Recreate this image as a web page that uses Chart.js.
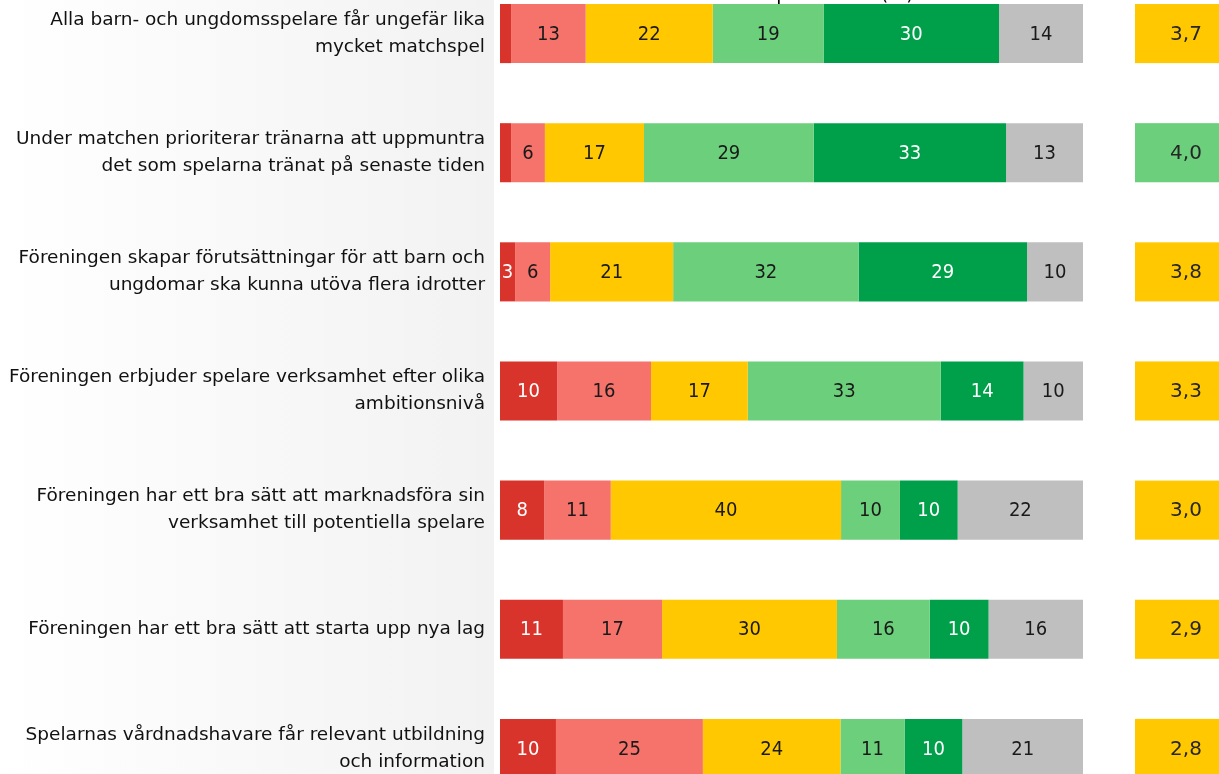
<!DOCTYPE html>
<html><head><meta charset="utf-8">
<script src="https://cdn.jsdelivr.net/npm/chart.js@4.4.1/dist/chart.umd.min.js"></script>
<style>
html,body{margin:0;padding:0;width:1219px;height:774px;overflow:hidden;
background:linear-gradient(to right,#ffffff 0px,#f2f2f2 494px,#ffffff 494px,#ffffff 100%);}
#c{position:absolute;left:0;top:-60px;}
</style></head><body>
<canvas id="c" width="1219" height="868" style="width:1219px;height:868px"></canvas>
<script>
const categories = [
  ["Alla barn- och ungdomsspelare får ungefär lika", "mycket matchspel"],
  ["Under matchen prioriterar tränarna att uppmuntra", "det som spelarna tränat på senaste tiden"],
  ["Föreningen skapar förutsättningar för att barn och", "ungdomar ska kunna utöva flera idrotter"],
  ["Föreningen erbjuder spelare verksamhet efter olika", "ambitionsnivå"],
  ["Föreningen har ett bra sätt att marknadsföra sin", "verksamhet till potentiella spelare"],
  "Föreningen har ett bra sätt att starta upp nya lag",
  ["Spelarnas vårdnadshavare får relevant utbildning", "och information"]
];
const seriesNames = ["1", "2", "3", "4", "5", "Vet ej"];
const s1 = [1.9, 1.9, 2.6, 9.8, 7.6, 10.8, 9.6];
const s2 = [12.8, 5.8, 6.0, 16.1, 11.4, 17.0, 25.2];
const s3 = [21.8, 17.0, 21.1, 16.6, 39.5, 30.0, 23.6];
const s4 = [19.0, 29.1, 31.8, 33.1, 10.1, 15.9, 11.0];
const s5 = [30.1, 33.0, 28.9, 14.2, 9.9, 10.1, 9.9];
const s6 = [14.4, 13.2, 9.6, 10.2, 21.5, 16.2, 20.7];
const means = [3.7, 4.0, 3.8, 3.3, 3.0, 2.9, 2.8];
const titleText = "Andel respondenter (%)";

const colors = ["#d9342b", "#f5736b", "#ffc800", "#6ccf7b", "#00a04a", "#bfbfbf"];
const labelColors = ["#ffffff", "#1a1a1a", "#1a1a1a", "#1a1a1a", "#ffffff", "#1a1a1a"];
const seriesData = [s1, s2, s3, s4, s5, s6];

const labelFont = '"DejaVu Sans", sans-serif';
const valueFont = '"Liberation Sans Narrow", "DejaVu Sans Condensed", sans-serif';

const overlay = {
  id: 'overlay',
  afterDatasetsDraw(chart) {
    const ctx = chart.ctx;
    const ca = chart.chartArea;
    ctx.save();
    ctx.textAlign = 'center';
    ctx.textBaseline = 'middle';
    ctx.font = '20px ' + valueFont;
    chart.data.datasets.forEach((ds, i) => {
      const meta = chart.getDatasetMeta(i);
      meta.data.forEach((bar, j) => {
        const v = ds.data[j];
        if (v < 2.5) return;
        const p = bar.getProps(['x', 'y', 'base'], true);
        ctx.fillStyle = labelColors[i];
        ctx.fillText(String(Math.round(v)), (p.x + p.base) / 2, p.y + 1);
      });
    });
    const meta0 = chart.getDatasetMeta(0);
    ctx.font = '20px "DejaVu Sans", sans-serif';
    meta0.data.forEach((bar, j) => {
      const p = bar.getProps(['y', 'height'], true);
      const left = ca.right + 52;
      const w = 102;
      ctx.fillStyle = means[j] >= 4 ? colors[3] : colors[2];
      ctx.fillRect(left, p.y - p.height / 2, w, p.height);
      ctx.fillStyle = '#262626';
      ctx.fillText(means[j].toFixed(1).replace('.', ','), left + w / 2, p.y + 1);
    });
    ctx.font = '19px "DejaVu Sans", sans-serif';
    ctx.fillStyle = '#000000';
    ctx.textBaseline = 'alphabetic';
    ctx.fillText(titleText, (ca.left + ca.right) / 2 + 9, 60);
    ctx.restore();
  }
};

new Chart(document.getElementById('c'), {
  type: 'bar',
  data: {
    labels: categories,
    datasets: seriesData.map((d, i) => ({
      label: seriesNames[i],
      data: d,
      backgroundColor: colors[i],
      borderWidth: 0,
      barPercentage: 0.496,
      categoryPercentage: 1
    }))
  },
  options: {
    indexAxis: 'y',
    responsive: false,
    animation: false,
    devicePixelRatio: 1,
    layout: { padding: { top: 34, right: 136, bottom: 0, left: 0 } },
    plugins: { legend: { display: false }, tooltip: { enabled: false }, title: { display: false } },
    scales: {
      x: { stacked: true, min: 0, max: 100, display: false },
      y: {
        stacked: true,
        grid: { display: false, drawTicks: false },
        border: { display: false },
        ticks: {
          autoSkip: false,
          padding: 15,
          color: '#111111',
          font: { family: labelFont, size: 18.5, lineHeight: 1.46 }
        },
        afterFit(scale) { scale.width = 500; scale.paddingTop = 0; scale.paddingBottom = 0; }
      }
    }
  },
  plugins: [overlay]
});
</script>
</body></html>
